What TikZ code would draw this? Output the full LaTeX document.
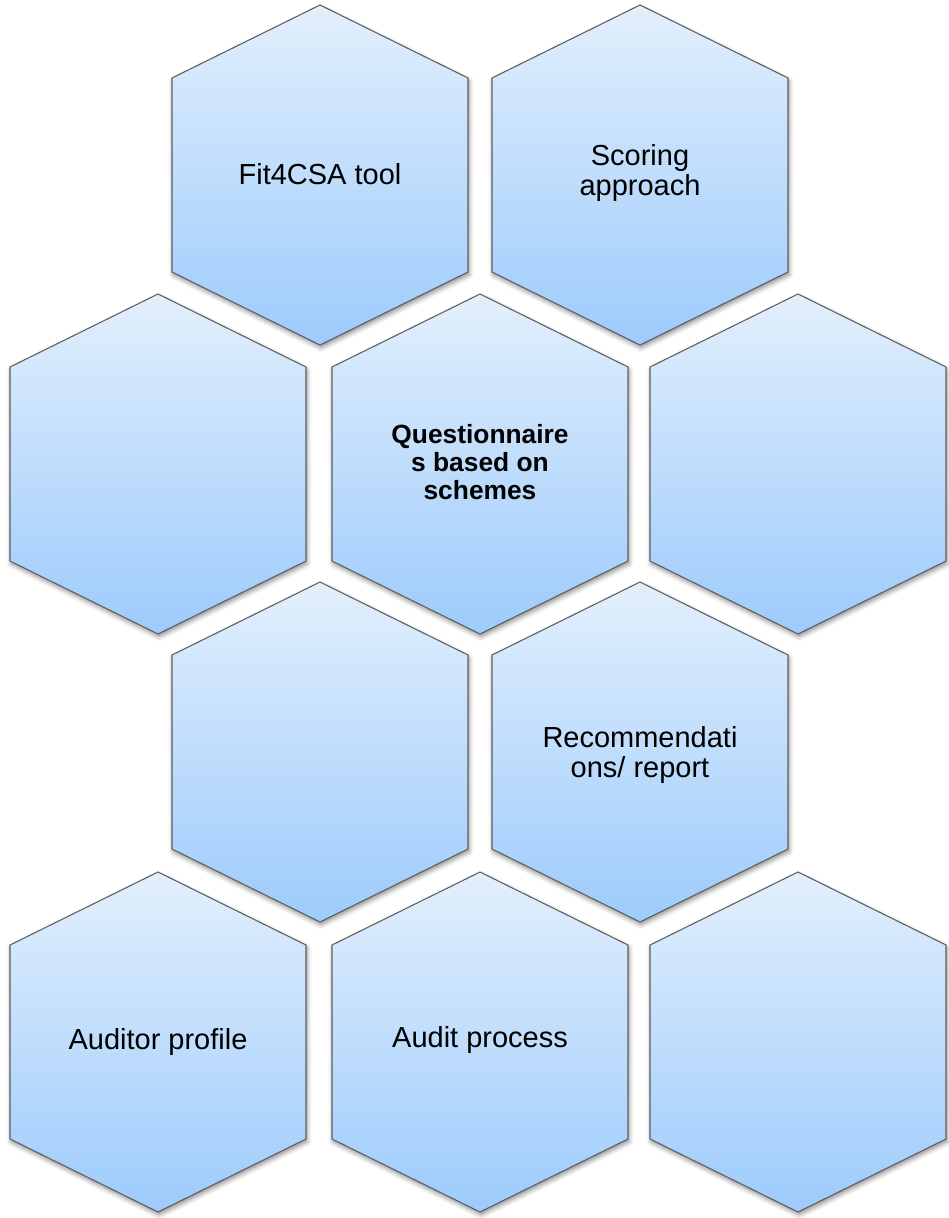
\documentclass[tikz,border=0pt]{standalone}
\usepackage{fontspec}
\setmainfont{Liberation Sans}
\usepackage{xcolor}
\usepackage{tikz}
\usetikzlibrary{shadows.blur}
\definecolor{hextop}{HTML}{E2EFFC}
\definecolor{hexbot}{HTML}{9DCBFC}
\definecolor{hexline}{HTML}{5E5E5E}

\tikzset{
  hexcell/.style={draw=hexline, line width=0.6pt, line join=miter,
    top color=hextop, bottom color=hexbot,
    blur shadow={shadow xshift=0.6pt, shadow yshift=-1.6pt, shadow blur radius=2.6pt, shadow opacity=45}},
  hexlabel/.style={align=center, inner sep=0pt, font=\fontsize{16.5}{17}\selectfont},
  hexbold/.style={hexlabel, font=\fontsize{15}{16}\selectfont\bfseries}
}

\begin{document}
\begin{tikzpicture}[x=0.02cm, y=-0.02cm]
\useasboundingbox (0,0) rectangle (948,1218);
% honeycomb, drawn row by row so each row covers the shadow of the one above
\foreach \cx/\cy in {320/175, 640/175,
                     158/464, 480/464, 798/464,
                     320/752, 640/752,
                     158/1042, 480/1042, 798/1042}
  \path[hexcell] (\cx,\cy-170) -- (\cx+148,\cy-97) -- (\cx+148,\cy+97)
     -- (\cx,\cy+170) -- (\cx-148,\cy+97) -- (\cx-148,\cy-97) -- cycle;
\node[hexlabel] (tool) at (320,174) {Fit4CSA tool};
\node[hexlabel] (scoring) at (640,173) {Scoring\\approach};
\node[hexbold] (quest) at (480,462) {Questionnaire\\s based on\\schemes};
\node[hexlabel] (recomm) at (640,755) {Recommendati\\ons/ report};
\node[hexlabel] (auditor) at (158,1042) {Auditor profile};
\node[hexlabel] (process) at (480,1040) {Audit process};
\end{tikzpicture}
\end{document}
